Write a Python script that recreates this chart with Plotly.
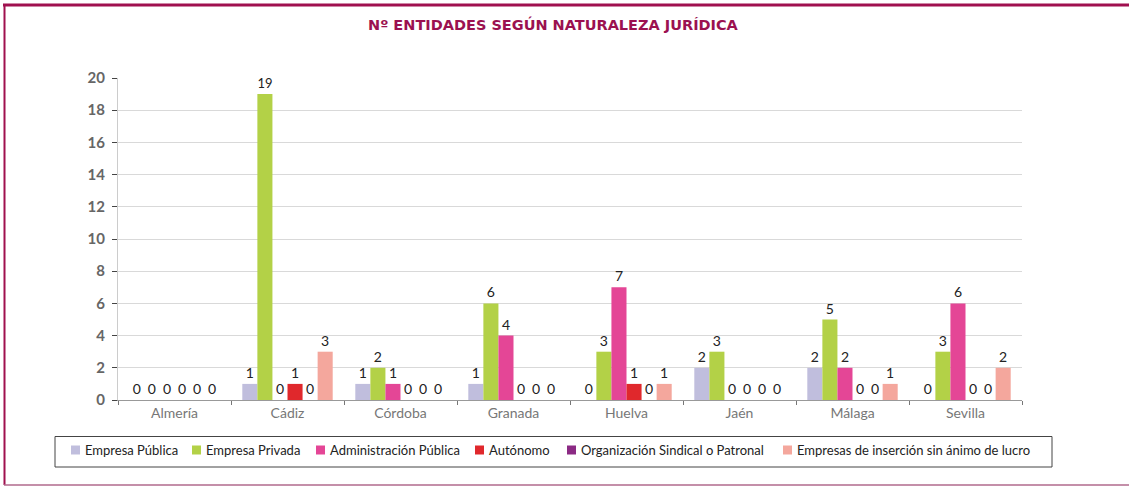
import plotly.graph_objects as go

provincias = ["Almería", "Cádiz", "Córdoba", "Granada", "Huelva", "Jaén", "Málaga", "Sevilla"]
series_names = ["Empresa Pública", "Empresa Privada", "Administración Pública", "Autónomo",
                "Organización Sindical o Patronal", "Empresas de inserción sin ánimo de lucro"]
empresa_publica = [0, 1, 1, 1, 0, 2, 2, 0]
empresa_privada = [0, 19, 2, 6, 3, 3, 5, 3]
administracion_publica = [0, 0, 1, 4, 7, 0, 2, 6]
autonomo = [0, 1, 0, 0, 1, 0, 0, 0]
org_sindical = [0, 0, 0, 0, 0, 0, 0, 0]
empresas_insercion = [0, 3, 0, 0, 1, 0, 1, 2]
y_ticks = [0, 2, 4, 6, 8, 10, 12, 14, 16, 18, 20]

colors = ["#c0bedd", "#b3d147", "#e44696", "#e0282c", "#8b2a84", "#f4a79d"]
values = [empresa_publica, empresa_privada, administracion_publica, autonomo, org_sindical, empresas_insercion]

FONT = "Lato"
W, H = 1129, 486
L, R, T, B = 118, 1022, 78, 400
pw, ph = R - L, B - T

def px(x):
    return (x - L) / pw

def py(y):
    return (B - y) / ph

fig = go.Figure()
for name, vals, c in zip(series_names, values, colors):
    fig.add_trace(go.Bar(
        x=provincias, y=vals, name=name, marker=dict(color=c, line=dict(width=0)),
        text=[str(v) for v in vals], textposition="outside",
        textfont=dict(family=FONT, size=14, color="#222222"),
        cliponaxis=False, showlegend=False,
    ))

fig.update_layout(
    width=W, height=H,
    margin=dict(l=L, r=W - R, t=T, b=H - B, pad=0),
    paper_bgcolor="white", plot_bgcolor="white",
    barmode="group", bargap=0.2, bargroupgap=0,
    font=dict(family=FONT, color="#444444"),
    showlegend=False,
    xaxis=dict(showline=True, linecolor="#999999", linewidth=1,
               ticks="outside", tickson="boundaries", ticklen=4, tickcolor="#777777",
               tickfont=dict(family=FONT, size=14, color="#777777"), showgrid=False),
    yaxis=dict(range=[0, 20], tickvals=y_ticks, showgrid=True, gridcolor="#d9d9d9", gridwidth=1,
               showline=True, linecolor="#cccccc", linewidth=1,
               ticks="outside", ticklen=5, tickcolor="#444444", ticklabelstandoff=4,
               tickfont=dict(family=FONT, size=15, color="#666666", weight="bold"),
               zeroline=False),
)

fig.add_annotation(text="<b>Nº ENTIDADES SEGÚN NATURALEZA JURÍDICA</b>", xref="paper", yref="paper",
                   x=px(553), y=py(25), showarrow=False, xanchor="center", yanchor="middle",
                   font=dict(family="DejaVu Sans", size=14.5, color="#9b1150"))

# legend (box, swatches, labels)
legend_text_x = [83, 204, 328, 487, 579, 795]
legend_y = 450
fig.add_shape(type="rect", xref="paper", yref="paper", x0=px(55), x1=px(1052), y0=py(436.5), y1=py(467),
              line=dict(color="#444444", width=1), fillcolor="white", layer="below")
for name, c, tx in zip(series_names, colors, legend_text_x):
    fig.add_shape(type="rect", xref="paper", yref="paper", x0=px(tx - 12), x1=px(tx - 3),
                  y0=py(legend_y - 4.5), y1=py(legend_y + 4.5), line=dict(width=0), fillcolor=c)
    fig.add_annotation(text=name, xref="paper", yref="paper", x=px(tx), y=py(legend_y),
                       showarrow=False, xanchor="left", yanchor="middle",
                       font=dict(family=FONT, size=13, color="#222222"))

# frame
fig.add_shape(type="line", xref="paper", yref="paper", x0=px(3), x1=px(1129), y0=py(5), y1=py(5),
              line=dict(color="#a0104f", width=3))
fig.add_shape(type="line", xref="paper", yref="paper", x0=px(4.5), x1=px(4.5), y0=py(4), y1=py(485),
              line=dict(color="#a0104f", width=2))
fig.add_shape(type="line", xref="paper", yref="paper", x0=px(4), x1=px(1129), y0=py(485), y1=py(485),
              line=dict(color="#b06a8c", width=1.5))

fig.write_html("out.html", config={"displayModeBar": False},
               post_script="document.body.style.margin='0';document.body.style.overflow='hidden';")
